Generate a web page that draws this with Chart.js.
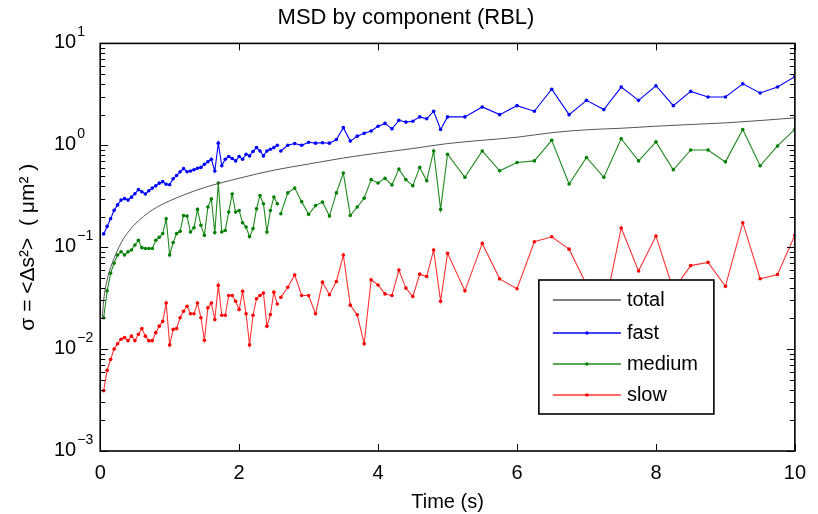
<!DOCTYPE html>
<html>
<head>
<meta charset="utf-8">
<script src="https://cdn.jsdelivr.net/npm/chart.js@4.4.1/dist/chart.umd.min.js"></script>
<style>
  html, body { margin: 0; padding: 0; background: #fff; }
</style>
</head>
<body>
<canvas id="msd" width="818" height="514"></canvas>
<script>
// lag times (s) shared by the three components; 2.575 is the break in the record
const times = [
  0.05, 0.1, 0.15, 0.2, 0.25, 0.3, 0.35, 0.4, 0.45, 0.5,
  0.55, 0.6, 0.65, 0.7, 0.75, 0.8, 0.85, 0.9, 0.95, 1.0,
  1.05, 1.1, 1.15, 1.2, 1.25, 1.3, 1.35, 1.4, 1.45, 1.5,
  1.55, 1.6, 1.65, 1.7, 1.75, 1.8, 1.85, 1.9, 1.95, 2.0,
  2.05, 2.1, 2.15, 2.2, 2.25, 2.3, 2.35, 2.4, 2.45, 2.5,
  2.55, 2.575,
  2.6, 2.7, 2.8, 2.9, 3.0, 3.1, 3.2, 3.3, 3.4, 3.5,
  3.6, 3.7, 3.8, 3.9, 4.0, 4.1, 4.2, 4.3, 4.4, 4.5,
  4.6, 4.7, 4.8, 4.9,
  5.0, 5.25, 5.5, 5.75, 6.0, 6.25, 6.5, 6.75, 7.0, 7.25,
  7.5, 7.75, 8.0, 8.25, 8.5, 8.75, 9.0, 9.25, 9.5, 9.75, 10.0
];

const fast = [
  0.135, 0.16, 0.19, 0.23, 0.26, 0.29, 0.30, 0.29, 0.31, 0.335,
  0.367, 0.35, 0.333, 0.358, 0.38, 0.40, 0.425, 0.44, 0.415, 0.41,
  0.47, 0.505, 0.55, 0.59, 0.55, 0.56, 0.575, 0.595, 0.607, 0.65,
  0.69, 0.73, 0.56, 1.05, 0.63, 0.73, 0.776, 0.742, 0.703, 0.776,
  0.73, 0.817, 0.787, 0.87, 0.949, 0.88, 0.787, 0.88, 0.914, 0.949,
  1.0, null,
  0.88, 1.0, 1.04, 1.0, 1.07, 1.05, 1.06, 1.05, 1.14, 1.49,
  1.10, 1.23, 1.31, 1.38, 1.54, 1.64, 1.45, 1.76, 1.69, 1.72,
  1.90, 1.82, 2.16, 1.43,
  1.90, 1.90, 2.38, 2.0, 2.45, 2.16, 3.55, 2.0, 2.76, 2.24,
  3.73, 2.76, 3.84, 2.45, 3.38, 2.98, 2.98, 4.01, 3.26, 3.73, 4.72
];

const medium = [
  0.0203, 0.0373, 0.0555, 0.0695, 0.0838, 0.0903, 0.0838, 0.09, 0.094, 0.105,
  0.117, 0.099, 0.097, 0.097, 0.097, 0.117, 0.125, 0.136, 0.19, 0.084,
  0.111, 0.136, 0.143, 0.205, 0.202, 0.141, 0.155, 0.235, 0.164, 0.131,
  0.248, 0.298, 0.139, 0.427, 0.141, 0.146, 0.221, 0.333, 0.221, 0.229,
  0.174, 0.158, 0.127, 0.152, 0.238, 0.321, 0.267, 0.141, 0.229, 0.311,
  0.267, null,
  0.213, 0.341, 0.38, 0.28, 0.21, 0.256, 0.277, 0.202, 0.341, 0.534,
  0.205, 0.248, 0.303, 0.46, 0.427, 0.474, 0.408, 0.584, 0.46, 0.402,
  0.607, 0.449, 0.88, 0.235,
  0.817, 0.485, 0.88, 0.562, 0.678, 0.703, 1.12, 0.417, 0.759, 0.485,
  1.16, 0.703, 1.08, 0.575, 0.9, 0.9, 0.688, 1.43, 0.63, 0.985, 1.43
];

const slow = [
  0.0039, 0.0062, 0.0079, 0.0100, 0.0113, 0.0125, 0.0130, 0.0121, 0.0134, 0.0121,
  0.0140, 0.0159, 0.0134, 0.0121, 0.0121, 0.0145, 0.0168, 0.0187, 0.0283, 0.0110,
  0.0156, 0.0159, 0.0203, 0.0235, 0.0263, 0.0222, 0.0222, 0.0283, 0.0203, 0.0122,
  0.0254, 0.0283, 0.0195, 0.0422, 0.0215, 0.0215, 0.0336, 0.0336, 0.0295, 0.0244,
  0.0369, 0.0222, 0.0110, 0.0215, 0.0312, 0.0336, 0.0355, 0.0168, 0.0218, 0.0362,
  0.0277, null,
  0.0322, 0.0404, 0.0534, 0.0336, 0.0336, 0.0222, 0.0454, 0.0342, 0.0461, 0.0838,
  0.027, 0.0217, 0.0113, 0.0478, 0.0426, 0.0348, 0.0336, 0.0597, 0.0397, 0.0328,
  0.0544, 0.0515, 0.094, 0.0295,
  0.087, 0.0373, 0.109, 0.0489, 0.0391, 0.113, 0.1265, 0.0957, 0.043, 0.023,
  0.1545, 0.0585, 0.129, 0.038, 0.066, 0.071, 0.0413, 0.174, 0.049, 0.054, 0.131
];

// total MSD is a smooth curve, read at fewer points
const totalTimes = [0.03, 0.05, 0.1, 0.15, 0.2, 0.3, 0.4, 0.5, 0.75, 1.0, 1.25, 1.5, 2.0, 2.5,
  3.0, 3.5, 4.0, 4.5, 5.0, 5.5, 6.0, 6.5, 7.0, 7.5, 8.0, 8.5, 9.0, 9.5, 10.0];
const totalValues = [0.02, 0.03, 0.048, 0.063, 0.078, 0.11, 0.14, 0.168, 0.232, 0.285, 0.335, 0.385, 0.475, 0.57,
  0.655, 0.75, 0.84, 0.93, 1.04, 1.12, 1.2, 1.33, 1.42, 1.47, 1.54, 1.60, 1.66, 1.75, 1.86];

const xTicks = [0, 2, 4, 6, 8, 10];
const yTicks = [1e-3, 1e-2, 1e-1, 1e0, 1e1];
const yExponents = ['\u22123', '\u22122', '\u22121', '0', '1'];

const FONT = "'Liberation Sans', Arial, Helvetica, sans-serif";

function pairs(xs, ys) {
  return xs.map((x, i) => ({ x: x, y: ys[i] }));
}

function series(label, color, lineColor, xs, ys) {
  return {
    label: label,
    data: pairs(xs, ys),
    borderColor: lineColor,
    backgroundColor: color,
    pointBackgroundColor: color,
    pointBorderWidth: 0,
    pointRadius: 1.8,
    borderWidth: 1.1,
    tension: 0,
    spanGaps: false
  };
}

// MATLAB-like frame: inward ticks on all sides, superscript labels, boxed legend
const matlabAxes = {
  id: 'matlabAxes',
  afterDatasetsDraw(chart) {
    const { ctx, chartArea: a, scales } = chart;
    const x = scales.x, y = scales.y;
    ctx.save();
    ctx.strokeStyle = '#000';
    ctx.lineWidth = 1;
    ctx.beginPath();
    xTicks.forEach(v => {
      const px = Math.round(x.getPixelForValue(v)) + 0.5;
      ctx.moveTo(px, a.bottom); ctx.lineTo(px, a.bottom - 7);
      ctx.moveTo(px, a.top); ctx.lineTo(px, a.top + 7);
    });
    yTicks.forEach(dec => {
      for (let m = 1; m <= 9; m++) {
        const v = m * dec;
        if (v > y.max) break;
        const len = m === 1 ? 8 : 5;
        const py = Math.round(y.getPixelForValue(v)) + 0.5;
        ctx.moveTo(a.left, py); ctx.lineTo(a.left + len, py);
        ctx.moveTo(a.right, py); ctx.lineTo(a.right - len, py);
      }
    });
    ctx.stroke();

    ctx.lineWidth = 1.6;
    ctx.strokeRect(a.left, a.top, a.right - a.left, a.bottom - a.top);

    // y tick labels 10^n
    ctx.fillStyle = '#000';
    ctx.textAlign = 'left';
    ctx.textBaseline = 'alphabetic';
    yTicks.forEach((v, i) => {
      const py = y.getPixelForValue(v);
      ctx.font = '20px ' + FONT;
      ctx.fillText('10', 54, py + 5);
      const w = ctx.measureText('10').width;
      ctx.font = '14px ' + FONT;
      ctx.fillText(yExponents[i], 54 + w + 1, py - 7);
    });

    // legend
    const bx = a.right - 256, by = a.bottom - 171, bw = 175, bh = 134;
    ctx.fillStyle = '#fff';
    ctx.fillRect(bx, by, bw, bh);
    ctx.lineWidth = 1.6;
    ctx.strokeStyle = '#000';
    ctx.strokeRect(bx, by, bw, bh);
    const rows = [20, 53, 84, 115];
    ctx.font = '20px ' + FONT;
    ctx.textBaseline = 'middle';
    chart.data.datasets.forEach((ds, i) => {
      const ly = by + rows[i];
      ctx.strokeStyle = ds.borderColor;
      ctx.lineWidth = 1.5;
      ctx.beginPath();
      ctx.moveTo(bx + 14, ly); ctx.lineTo(bx + 82, ly);
      ctx.stroke();
      if (ds.pointRadius > 0) {
        ctx.fillStyle = ds.pointBackgroundColor;
        ctx.beginPath();
        ctx.arc(bx + 48, ly, 1.7, 0, Math.PI * 2);
        ctx.fill();
      }
      ctx.fillStyle = '#000';
      ctx.fillText(ds.label, bx + 88, ly);
    });
    ctx.restore();
  }
};

const totalSet = {
  label: 'total',
  data: pairs(totalTimes, totalValues),
  borderColor: '#555555',
  borderWidth: 1,
  pointRadius: 0,
  cubicInterpolationMode: 'monotone'
};

new Chart(document.getElementById('msd'), {
  type: 'line',
  data: {
    datasets: [
      totalSet,
      series('fast', '#0000ff', '#0000ff', times, fast),
      series('medium', '#008000', '#1f8a1f', times, medium),
      series('slow', '#ff0000', 'rgba(255,0,0,0.8)', times, slow)
    ]
  },
  options: {
    responsive: false,
    animation: false,
    layout: { padding: { left: 16, right: 22, top: 0, bottom: 2 } },
    plugins: {
      legend: { display: false },
      tooltip: { enabled: false },
      title: {
        display: true,
        text: 'MSD by component (RBL)',
        color: '#000',
        font: { family: FONT, size: 22, weight: 'normal' },
        padding: { top: 5, bottom: 12 }
      }
    },
    scales: {
      x: {
        type: 'linear',
        min: 0,
        max: 10,
        afterBuildTicks: s => { s.ticks = xTicks.map(v => ({ value: v })); },
        ticks: { color: '#000', font: { family: FONT, size: 20, lineHeight: 1.0 }, padding: 12, maxRotation: 0 },
        grid: { display: false, drawTicks: false },
        border: { display: false },
        title: {
          display: true,
          text: 'Time (s)',
          color: '#000',
          font: { family: FONT, size: 20, lineHeight: 1.0 },
          padding: { top: -3, bottom: 0 }
        }
      },
      y: {
        type: 'logarithmic',
        min: 1e-3,
        max: 10,
        afterBuildTicks: s => { s.ticks = yTicks.map(v => ({ value: v })); },
        ticks: { display: false },
        grid: { display: false, drawTicks: false },
        border: { display: false },
        title: {
          display: true,
          text: 'σ = <Δs²>  ( μm² )',
          color: '#000',
          font: { family: FONT, size: 21, lineHeight: 1.2 },
          padding: { top: 0, bottom: 59 }
        }
      }
    }
  },
  plugins: [matlabAxes]
});
</script>
</body>
</html>
